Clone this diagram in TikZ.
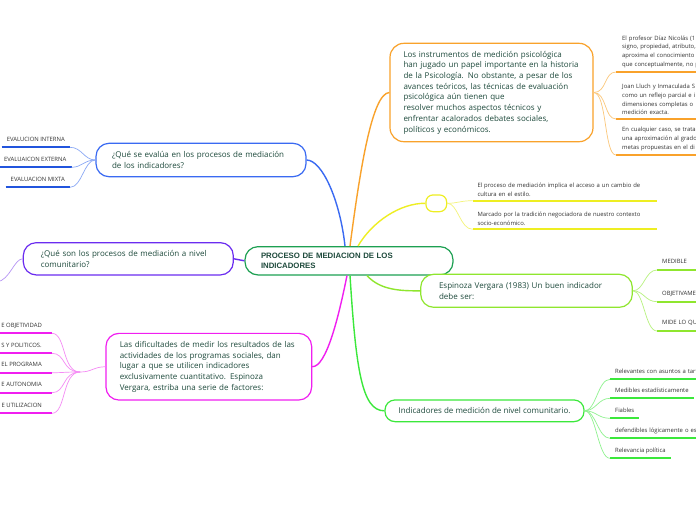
\documentclass[tikz,border=0pt]{standalone}
\usepackage{fontspec}
\setmainfont{Open Sans}
\newfontfamily\arialfont{Liberation Sans}
\usepackage{xcolor}
\usepackage{tikz}
\usetikzlibrary{positioning}

\definecolor{txtgreen}{HTML}{1E4A3C}
\definecolor{leaftxt}{HTML}{333333}
\definecolor{rootc}{HTML}{1DA052}
\definecolor{bluec}{HTML}{3A6AF2}
\definecolor{blueul}{HTML}{2255DD}
\definecolor{bluelt}{HTML}{8AA8F5}
\definecolor{purplec}{HTML}{6B2CF0}
\definecolor{purplelt}{HTML}{B796F5}
\definecolor{magentac}{HTML}{F01FF0}
\definecolor{magentalt}{HTML}{F58CF5}
\definecolor{orangec}{HTML}{F9A22B}
\definecolor{orangelt}{HTML}{FBC77A}
\definecolor{yellowc}{HTML}{EEEE22}
\definecolor{yellowlt}{HTML}{F4F47A}
\definecolor{limec}{HTML}{8FE62E}
\definecolor{limelt}{HTML}{B8F27F}
\definecolor{greenc}{HTML}{3BE83B}
\definecolor{greenlt}{HTML}{8FF28F}

\begin{document}
\begin{tikzpicture}[
			x=1pt, y=-1pt,
			topic/.style={rectangle, rounded corners=13pt, draw=#1, line width=1.2pt, fill=white,
				text=txtgreen, font=\fontsize{8}{10.7}\selectfont, inner sep=0pt, align=left},
			rootbox/.style={topic=rootc, font=\arialfont\bfseries\fontsize{7.8}{9.6}\selectfont},
			leaf/.style={anchor=south west, inner xsep=5pt, inner ysep=4.5pt, text depth=1.5pt,
				text=leaftxt, font=\fontsize{5.9}{8.7}\selectfont, align=left,
				append after command={(\tikzlastnode.south west) edge[line width=1.8pt, draw=#1] (\tikzlastnode.south east)}},
			leafl/.style={leaf=#1, anchor=south east, align=right},
			multi/.style={text depth=, inner ysep=4pt},
			link/.style={line width=1.4pt, draw=#1},
			twig/.style={line width=0.7pt, draw=#1},
			]
			
			\useasboundingbox (0,0) rectangle (696,520);
			\fill[white] (0,0) rectangle (696,520);
			\clip (0,0) rectangle (696,520);
			
			\node[rootbox, minimum width=208pt, minimum height=28.3pt, text width=176pt] (root) at (349,260.8)
				{PROCESO DE MEDIACION DE LOS\\INDICADORES};
			
			\node[topic=bluec, minimum width=210pt, minimum height=33.4pt, text width=178pt] (evalua) at (201,160)
				{¿Qué se evalúa en los procesos de mediación\\de los indicadores?};
			\node[topic=purplec, minimum width=210pt, minimum height=32.3pt, text width=175pt] (comunit) at (128.3,258.8)
				{¿Qué son los procesos de mediación a nivel\\comunitario?};
			\node[topic=magentac, minimum width=205.7pt, minimum height=66.7pt, text width=178pt] (dificult) at (208.8,366.7)
				{Las dificultades de medir los resultados de las\\actividades de los programas sociales, dan\\lugar a que se utilicen indicadores\\exclusivamente cuantitativo. Espinoza\\Vergara, estriba una serie de factores:};
			\node[topic=orangec, rounded corners=14pt, minimum width=203pt, minimum height=98.4pt, text width=176pt] (instrum) at (491.5,92.5)
				{Los instrumentos de medición psicológica\\han jugado un papel importante en la historia\\de la Psicología. No obstante, a pesar de los\\avances teóricos, las técnicas de evaluación\\psicológica aún tienen que\\resolver muchos aspectos técnicos y\\enfrentar acalorados debates sociales,\\políticos y económicos.};
			\node[topic=yellowc, rounded corners=7pt, minimum width=20.7pt, minimum height=16.7pt] (mediac) at (436.3,203.3) {};
			\node[topic=limec, minimum width=211.6pt, minimum height=33pt, text width=175pt] (espinoza) at (526.5,290.8)
				{Espinoza Vergara (1983) Un buen indicador\\debe ser:};
			\node[topic=greenc, rounded corners=10pt, minimum width=199pt, minimum height=21.7pt] (indicad) at (484.5,410.8)
				{Indicadores de medición de nivel comunitario.};
			
			\node[leafl=blueul] (interna) at (70,147.3) {EVALUCION INTERNA};
			\node[leafl=blueul] (externa) at (71.5,167.3) {EVALUAICON EXTERNA};
			\node[leafl=blueul] (mixta) at (70,187.3) {EVALUACION MIXTA};
			
			\node[leafl=magentac, inner xsep=10pt] (objetividad) at (52,333.3) {E OBJETIVIDAD};
			\node[leafl=magentac, inner xsep=10pt] (politicos) at (52,353.3) {S Y POLITICOS.};
			\node[leafl=magentac, inner xsep=10pt] (programa) at (52,372.7) {EL PROGRAMA};
			\node[leafl=magentac, inner xsep=10pt] (autonomia) at (52,392.7) {E AUTONOMIA};
			\node[leafl=magentac, inner xsep=10pt] (utilizacion) at (52,413.3) {E UTILIZACION};
			
			\node[leaf=orangec, multi, inner xsep=6pt, text width=80pt] (profesor) at (616,72)
				{El profesor Díaz Nicolás (1\\signo, propiedad, atributo,\\aproxima el conocimiento\\que conceptualmente, no p};
			\node[leaf=orangec, multi, inner xsep=6pt, text width=80pt] (lluch) at (616,119)
				{Joan Lluch y Inmaculada S\\como un reflejo parcial e i\\dimensiones completas o\\medición exacta.};
			\node[leaf=orangec, multi, inner xsep=6pt, text width=80pt] (caso) at (616,155)
				{En cualquier caso, se trata\\una aproximación al grado\\metas propuestas en el di};
			
			\node[leaf=yellowc, multi, inner xsep=4.6pt, text width=175pt] (acceso) at (472.7,200.7)
				{El proceso de mediación implica el acceso a un cambio de\\cultura en el estilo.};
			\node[leaf=yellowc, multi, inner xsep=4.6pt, text width=175pt] (marcado) at (472.7,229.3)
				{Marcado por la tradición negociadora de nuestro contexto\\socio-económico.};
			
			\node[leaf=limec, text width=40pt] (medible) at (657,270) {MEDIBLE};
			\node[leaf=limec, text width=40pt] (objetiv) at (657,301.7) {OBJETIVAME};
			\node[leaf=limec, text width=40pt] (mideq) at (657,331) {MIDE LO QU};
			
			\node[leaf=greenc, text width=85pt] (relev) at (610,379.3) {Relevantes con asuntos a tart};
			\node[leaf=greenc] (medib) at (610,398.3) {Medibles estadísticamente};
			\node[leaf=greenc] (fiab) at (610,418.3) {Fiables};
			\node[leaf=greenc, text width=85pt] (defend) at (610,438.3) {defendibles lógicamente o es};
			\node[leaf=greenc] (relpol) at (610,458.3) {Relevancia política};
			
			\coordinate (offleft) at (-3,282);
			\coordinate (maghub) at (80,372);
			
			\draw[link=bluec] ([xshift=-4pt]root.north) .. controls (340,200) and (322,160) .. (evalua.east);
			\draw[link=orangec] ([xshift=1pt]root.north) .. controls (360,170) and (372,93) .. (instrum.west);
			\draw[link=yellowc] ([xshift=9pt]root.north) .. controls (372,222) and (400,203) .. (mediac.west);
			\draw[link=purplec] (root.west) -- (comunit.east);
			\draw[link=magentac] ([xshift=-2pt]root.south) .. controls (338,320) and (326,367) .. (dificult.east);
			\draw[link=limec] ([xshift=18pt]root.south) .. controls (380,290) and (400,291) .. (espinoza.west);
			\draw[link=greenc] ([xshift=1pt]root.south) .. controls (356,370) and (362,411) .. (indicad.west);
			
			\draw[twig=purplelt] (comunit.west) .. controls (14,259) and (10,280) .. (offleft);
			
			\draw[twig=bluelt] (evalua.west) .. controls (84,160) and (82,147.3) .. (interna.south east);
			\draw[twig=bluelt] (evalua.west) .. controls (84,160) and (82,167.3) .. (externa.south east);
			\draw[twig=bluelt] (evalua.west) .. controls (84,160) and (82,187.3) .. (mixta.south east);
			
			\draw[twig=magentalt] (dificult.west) .. controls (93,367) and (92,372) .. (maghub);
			\draw[twig=magentalt] (maghub) .. controls (62,372) and (66,333.3) .. (objetividad.south east);
			\draw[twig=magentalt] (maghub) .. controls (62,372) and (66,353.3) .. (politicos.south east);
			\draw[twig=magentalt] (maghub) .. controls (62,372) and (66,372.7) .. (programa.south east);
			\draw[twig=magentalt] (maghub) .. controls (62,372) and (66,392.7) .. (autonomia.south east);
			\draw[twig=magentalt] (maghub) .. controls (62,372) and (66,413.3) .. (utilizacion.south east);
			
			\draw[twig=orangelt] (instrum.east) .. controls (607,92.5) and (604,72) .. (profesor.south west);
			\draw[twig=orangelt] (instrum.east) .. controls (607,92.5) and (604,119) .. (lluch.south west);
			\draw[twig=orangelt] (instrum.east) .. controls (607,92.5) and (604,155) .. (caso.south west);
			
			\draw[twig=yellowlt] (mediac.east) .. controls (458,203.3) and (460,200.7) .. (acceso.south west);
			\draw[twig=yellowlt] (mediac.east) .. controls (458,203.3) and (460,229.3) .. (marcado.south west);
			
			\draw[twig=limelt] (espinoza.east) .. controls (644,290.8) and (645,270) .. (medible.south west);
			\draw[twig=limelt] (espinoza.east) .. controls (644,290.8) and (645,301.7) .. (objetiv.south west);
			\draw[twig=limelt] (espinoza.east) .. controls (644,290.8) and (645,331) .. (mideq.south west);
			
			\draw[twig=greenlt] (indicad.east) .. controls (596,410.8) and (598,379.3) .. (relev.south west);
			\draw[twig=greenlt] (indicad.east) .. controls (596,410.8) and (598,398.3) .. (medib.south west);
			\draw[twig=greenlt] (indicad.east) .. controls (596,410.8) and (598,418.3) .. (fiab.south west);
			\draw[twig=greenlt] (indicad.east) .. controls (596,410.8) and (598,438.3) .. (defend.south west);
			\draw[twig=greenlt] (indicad.east) .. controls (596,410.8) and (598,458.3) .. (relpol.south west);
			
		\end{tikzpicture}
\end{document}
